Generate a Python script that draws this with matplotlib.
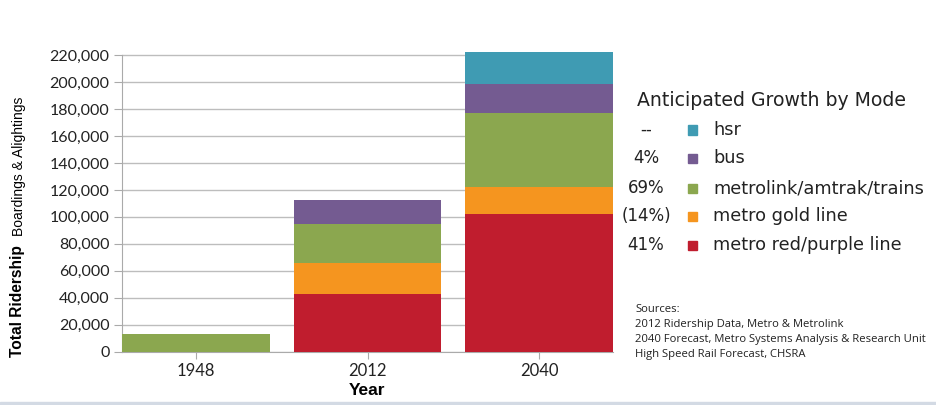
import matplotlib
matplotlib.use("Agg")
import matplotlib.pyplot as plt
from matplotlib.patches import Rectangle
import numpy as np

years = ["1948", "2012", "2040"]
modes = ["metro red/purple line", "metro gold line", "metrolink/amtrak/trains", "bus", "hsr"]
red_purple = [0, 43000, 102000]
gold = [0, 23000, 20000]
metrolink = [13000, 28500, 55000]
bus = [0, 18000, 21300]
hsr = [0, 0, 23700]
growth = ["41%", "(14%)", "69%", "4%", "--"]
colors = ["#C01D2E", "#F5951F", "#8BA74F", "#745B91", "#3F9BB3"]
yticks = list(range(0, 220001, 20000))

series = [red_purple, gold, metrolink, bus, hsr]

W, H = 936, 405
fig = plt.figure(figsize=(W / 100, H / 100), dpi=100)
ax = fig.add_axes([122 / W, (H - 351.7) / H, (613 - 122) / W, 300 / H])

x = np.arange(len(years))
bottom = np.zeros(len(years))
for vals, col, name in zip(series, colors, modes):
    ax.bar(x, vals, bottom=bottom, width=0.86, color=col, label=name, zorder=3)
    bottom += np.array(vals)

ax.set_xlim(-0.43, 2.43)
ax.set_ylim(0, 222500)
ax.set_yticks(yticks)
ax.set_yticklabels([f"{v:,}" for v in yticks], fontsize=11.5, family=["Lato", "DejaVu Sans"], color="#222222")
ax.set_xticks(x)
ax.set_xticklabels(years, fontsize=12, family=["Lato", "DejaVu Sans"], color="#222222")
ax.yaxis.grid(True, color="#BDBDBD", linewidth=1.0, zorder=0)
ax.set_axisbelow(True)
for s in ["top", "right"]:
    ax.spines[s].set_visible(False)
ax.spines["left"].set_color("#AAAAAA")
ax.spines["left"].set_bounds(0, 220000)
ax.spines["bottom"].set_color("#AAAAAA")
ax.tick_params(axis="y", length=6, color="#AAAAAA", pad=3)
ax.tick_params(axis="x", length=5, color="#AAAAAA", pad=3)

ax.set_xlabel("Year", fontsize=12.5, fontweight="bold", family=["Liberation Sans", "DejaVu Sans"], labelpad=3)

# y-axis label in two parts
fig.text(18 / W, (H - 357) / H, "Total Ridership", rotation=90, ha="center", va="bottom",
         fontsize=11.2, fontweight="bold", family=["Liberation Sans", "DejaVu Sans"])
fig.text(19 / W, (H - 236) / H, "Boardings & Alightings", rotation=90, ha="center", va="bottom",
         fontsize=10, family=["Liberation Sans", "DejaVu Sans"])

# legend (manual)
lf = ["DejaVu Sans"]
fig.text(637 / W, (H - 100) / H, "Anticipated Growth by Mode", ha="left", va="center",
         fontsize=13.6, family=lf, color="#222222")
ys = [245, 216, 188, 158, 130]
for yy, name, col, g in zip(ys, modes, colors, growth):
    fig.patches.append(Rectangle((688 / W, (H - yy - 4.5) / H), 9 / W, 9 / H,
                                 transform=fig.transFigure, color=col, figure=fig))
    fig.text(713 / W, (H - yy) / H, name, ha="left", va="center", fontsize=12.8, family=lf, color="#222222")
    fig.text(646 / W, (H - yy) / H, g, ha="center", va="center", fontsize=12, family=lf, color="#222222")

src = ["Sources:",
       "2012 Ridership Data, Metro & Metrolink",
       "2040 Forecast, Metro Systems Analysis & Research Unit",
       "High Speed Rail Forecast, CHSRA"]
for i, s in enumerate(src):
    fig.text(635 / W, (H - 310 - i * 14.7) / H, s, ha="left", va="center", fontsize=8.1,
             family=["Open Sans", "DejaVu Sans"], color="#222222")

# bottom border band
fig.patches.append(Rectangle((0, 0), 1, 3 / H, transform=fig.transFigure, color="#D3DAE4", figure=fig))

fig.savefig("out.png", dpi=100)
